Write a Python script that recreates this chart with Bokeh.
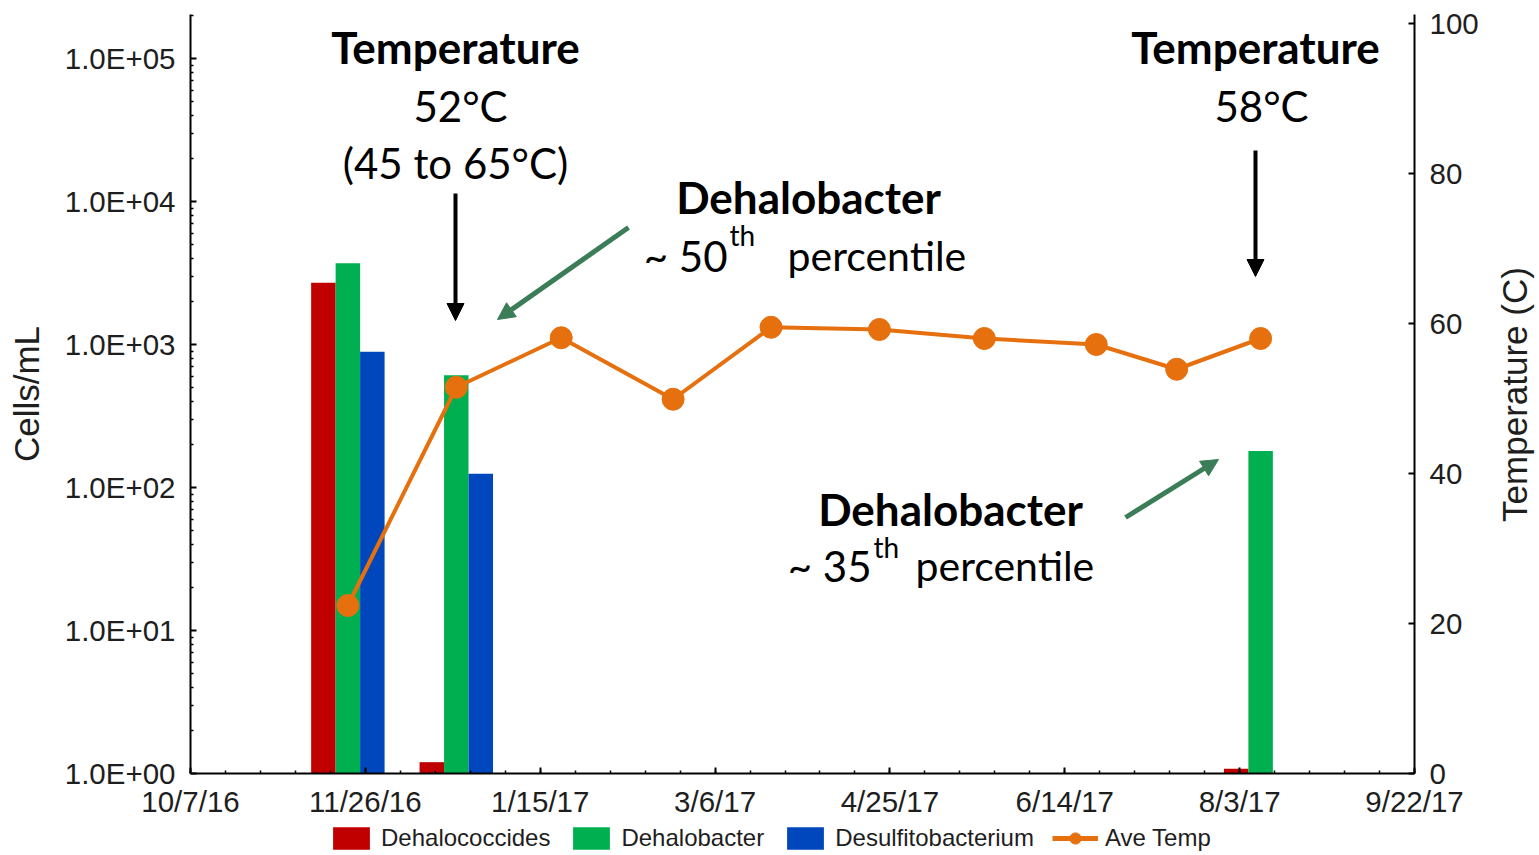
import math
import pandas as pd
from bokeh.plotting import figure
from bokeh.layouts import row, column
from bokeh.models import (Range1d, LinearAxis, LinearScale, FixedTicker, Legend, LegendItem,
                          Label, Arrow, NormalHead)
from bokeh.embed import file_html
from bokeh.resources import INLINE

# ---------------- data ----------------
origin_date = "2016-10-07"
x_tick_labels = ["10/7/16", "11/26/16", "1/15/17", "3/6/17", "4/25/17",
                 "6/14/17", "8/3/17", "9/22/17"]

sample_dates = ["2016-11-21", "2016-12-22", "2017-08-09"]
dehalococcides = [2700, 1.2, 1.08]
dehalobacter = [3700, 610, 180]
desulfitobacterium = [890, 125, None]

temp_dates = ["2016-11-21", "2016-12-22", "2017-01-21", "2017-02-22", "2017-03-22",
              "2017-04-22", "2017-05-22", "2017-06-23", "2017-07-16", "2017-08-09"]
ave_temp = [22.4, 51.5, 58.1, 49.9, 59.5, 59.2, 58.0, 57.2, 53.9, 58.0]

y_ticks = [1, 10, 100, 1000, 10000, 100000]
y_tick_labels = ["1.0E+00", "1.0E+01", "1.0E+02", "1.0E+03", "1.0E+04", "1.0E+05"]
temp_ticks = [0, 20, 40, 60, 80, 100]

series_names = ["Dehalococcides", "Dehalobacter", "Desulfitobacterium", "Ave Temp"]

# ---------------- helpers ----------------
origin = pd.Timestamp(origin_date)
def to_days(dates, fmt=None):
    return [int((pd.to_datetime(d, format=fmt) - origin).days) for d in dates]

sample_days = to_days(sample_dates)
temp_days = to_days(temp_dates)
tick_days = to_days(x_tick_labels, fmt="%m/%d/%y")

RED, GREEN, BLUE, ORANGE = "#C00000", "#00B050", "#0047BD", "#E5700D"
ARROW_GREEN = "#3A7D57"
AX_FONT = "Liberation Sans"
ANN_FONT = "Lato"
TXT = "#1E1E1E"

MAIN_W, MAIN_H = 1492, 823
p = figure(width=MAIN_W, height=MAIN_H,
           x_range=Range1d(tick_days[0], tick_days[-1]),
           y_range=Range1d(1, 2.03e5), y_axis_type="log",
           output_backend="svg", toolbar_location=None,
           min_border_left=190, min_border_right=MAIN_W - 1414,
           min_border_top=14, min_border_bottom=MAIN_H - 773,
           outline_line_color=None, background_fill_color="white")
p.extra_y_ranges = {"temp": Range1d(0, 101.2)}
p.extra_y_scales = {"temp": LinearScale()}
p.xgrid.grid_line_color = None
p.ygrid.grid_line_color = None

BAR_W = 7
def bars(values, offset, color):
    xs = [d + offset for d, v in zip(sample_days, values) if v is not None]
    ys = [v for v in values if v is not None]
    return p.vbar(x=xs, top=ys, bottom=1, width=BAR_W, fill_color=color,
                  line_color=None)

bars(dehalococcides, -BAR_W, RED)
bars(dehalobacter, 0, GREEN)
bars(desulfitobacterium, BAR_W, BLUE)

p.line(temp_days, ave_temp, y_range_name="temp", line_color=ORANGE, line_width=4)
p.scatter(temp_days, ave_temp, y_range_name="temp", size=22,
          fill_color=ORANGE, line_color=ORANGE)

# ---------------- axes ----------------
def style_axis(ax):
    ax.axis_line_color = "black"
    ax.axis_line_width = 2
    ax.major_tick_line_color = "black"
    ax.major_tick_line_width = 2
    ax.minor_tick_line_color = "black"
    ax.minor_tick_line_width = 1.5
    ax.major_tick_out = 0
    ax.major_tick_in = 6
    ax.minor_tick_out = 0
    ax.minor_tick_in = 3
    ax.major_label_text_font = AX_FONT
    ax.major_label_text_font_size = "29.5px"
    ax.major_label_text_color = TXT
    ax.axis_label_text_font = AX_FONT
    ax.axis_label_text_font_size = "35px"
    ax.axis_label_text_font_style = "normal"
    ax.axis_label_text_color = TXT

xax = p.xaxis[0]
style_axis(xax)
xax.ticker = FixedTicker(ticks=tick_days, minor_ticks=list(range(tick_days[0], tick_days[-1] + 1, 10)))
xax.major_label_overrides = {d: lab for d, lab in zip(tick_days, x_tick_labels)}
xax.major_label_standoff = 11

yax = p.yaxis[0]
style_axis(yax)
yax.ticker = FixedTicker(ticks=y_ticks,
                         minor_ticks=[m * t for t in y_ticks for m in range(2, 10)])
yax.major_label_overrides = {t: lab for t, lab in zip(y_ticks, y_tick_labels)}
yax.major_label_standoff = 15
yax.axis_label = "Cells/mL"
yax.axis_label_standoff = 16

rax = LinearAxis(y_range_name="temp", ticker=FixedTicker(ticks=temp_ticks, minor_ticks=[]))
style_axis(rax)
rax.major_label_standoff = 15
p.add_layout(rax, "right")

# ---------------- annotations ----------------
PX_PER_DAY = 1224 / (tick_days[-1] - tick_days[0])
def dx(px):  # window px -> days
    return (px - 190) / PX_PER_DAY
def ty(py):  # window px from top -> temperature units
    return (773 - py) / 7.5

LIFT = 17  # correction of the rendered baseline

def label(text, px, py, size, bold=False, align="center"):
    p.add_layout(Label(x=dx(px), y=ty(py - LIFT), y_range_name="temp", text=text,
                       text_font=ANN_FONT, text_font_size=f"{size}px",
                       text_font_style="bold" if bold else "normal",
                       text_align=align, text_baseline="alphabetic",
                       text_color="black"))

label("Temperature", 455, 63, 44, bold=True)
label("52°C", 460, 122, 42)
label("(45 to 65°C)", 455, 179, 42)
label("Temperature", 1255, 63, 44, bold=True)
label("58°C", 1261, 122, 42)

label("Dehalobacter", 808, 213, 44, bold=True)
label("~ 50", 727, 272, 42, align="right")
label("th", 729, 251, 28, align="left")
label("percentile", 787, 272, 41, align="left")

label("Dehalobacter", 950, 525, 44, bold=True)
label("~ 35", 871, 582, 42, align="right")
label("th", 873, 563, 28, align="left")
label("percentile", 915, 582, 41, align="left")

def arrow(x0, y0, x1, y1, color, width):
    p.add_layout(Arrow(x_start=dx(x0), y_start=ty(y0),
                       x_end=dx(x1), y_end=ty(y1), y_range_name="temp",
                       line_color=color, line_width=width,
                       end=NormalHead(size=17, fill_color=color, line_color=color)))

arrow(455, 193, 455, 320, "black", 4)
arrow(1255, 150, 1255, 276, "black", 4)
arrow(628, 227, 497, 319, ARROW_GREEN, 5)
arrow(1125, 517, 1218, 459, ARROW_GREEN, 5)

# ---------------- legend strip (below) ----------------
LEG_H = 855 - MAIN_H
lf = figure(width=MAIN_W, height=LEG_H, x_range=Range1d(0, 10), y_range=Range1d(0, 10),
            output_backend="svg", toolbar_location=None, x_axis_location=None,
            y_axis_location=None, min_border=0, outline_line_color=None)
lf.xgrid.grid_line_color = None
lf.ygrid.grid_line_color = None
# legend proxies (placed outside the visible range; they only feed the legend swatches)
OFF = [-100]
l_red = lf.vbar(x=OFF, top=OFF, width=1, fill_color=RED, line_color=None)
l_green = lf.vbar(x=OFF, top=OFF, width=1, fill_color=GREEN, line_color=None)
l_blue = lf.vbar(x=OFF, top=OFF, width=1, fill_color=BLUE, line_color=None)
l_line = lf.line(x=OFF, y=OFF, line_color=ORANGE, line_width=5)
l_pts = lf.scatter(x=OFF, y=OFF, size=14, fill_color=ORANGE, line_color=ORANGE)
legend = Legend(items=[
    LegendItem(label=series_names[0], renderers=[l_red]),
    LegendItem(label=series_names[1], renderers=[l_green]),
    LegendItem(label=series_names[2], renderers=[l_blue]),
    LegendItem(label=series_names[3], renderers=[l_line, l_pts]),
], orientation="horizontal", location=(328 - 190, 3),
   glyph_width=46, glyph_height=28, label_standoff=7, spacing=18,
   label_text_font=AX_FONT, label_text_font_size="24px", label_text_color=TXT,
   border_line_color=None, background_fill_alpha=0, padding=0, margin=0)
lf.add_layout(legend, "center")

# ---------------- right axis title strip ----------------
TW = 1539 - MAIN_W
tf = figure(width=TW, height=855, x_range=Range1d(0, TW), y_range=Range1d(0, 855),
            output_backend="svg", toolbar_location=None, x_axis_location=None,
            y_axis_location=None, min_border=0, outline_line_color=None)
tf.xgrid.grid_line_color = None
tf.ygrid.grid_line_color = None
tf.add_layout(Label(x=1514 - MAIN_W, y=855 - 394, text="Temperature (C)", angle=math.pi / 2,
                    text_align="center", text_baseline="middle", text_font=AX_FONT,
                    text_font_size="35px", text_color=TXT))

layout = row(column(p, lf, spacing=0), tf, spacing=0)
open("out.html", "w").write(file_html(layout, INLINE))
